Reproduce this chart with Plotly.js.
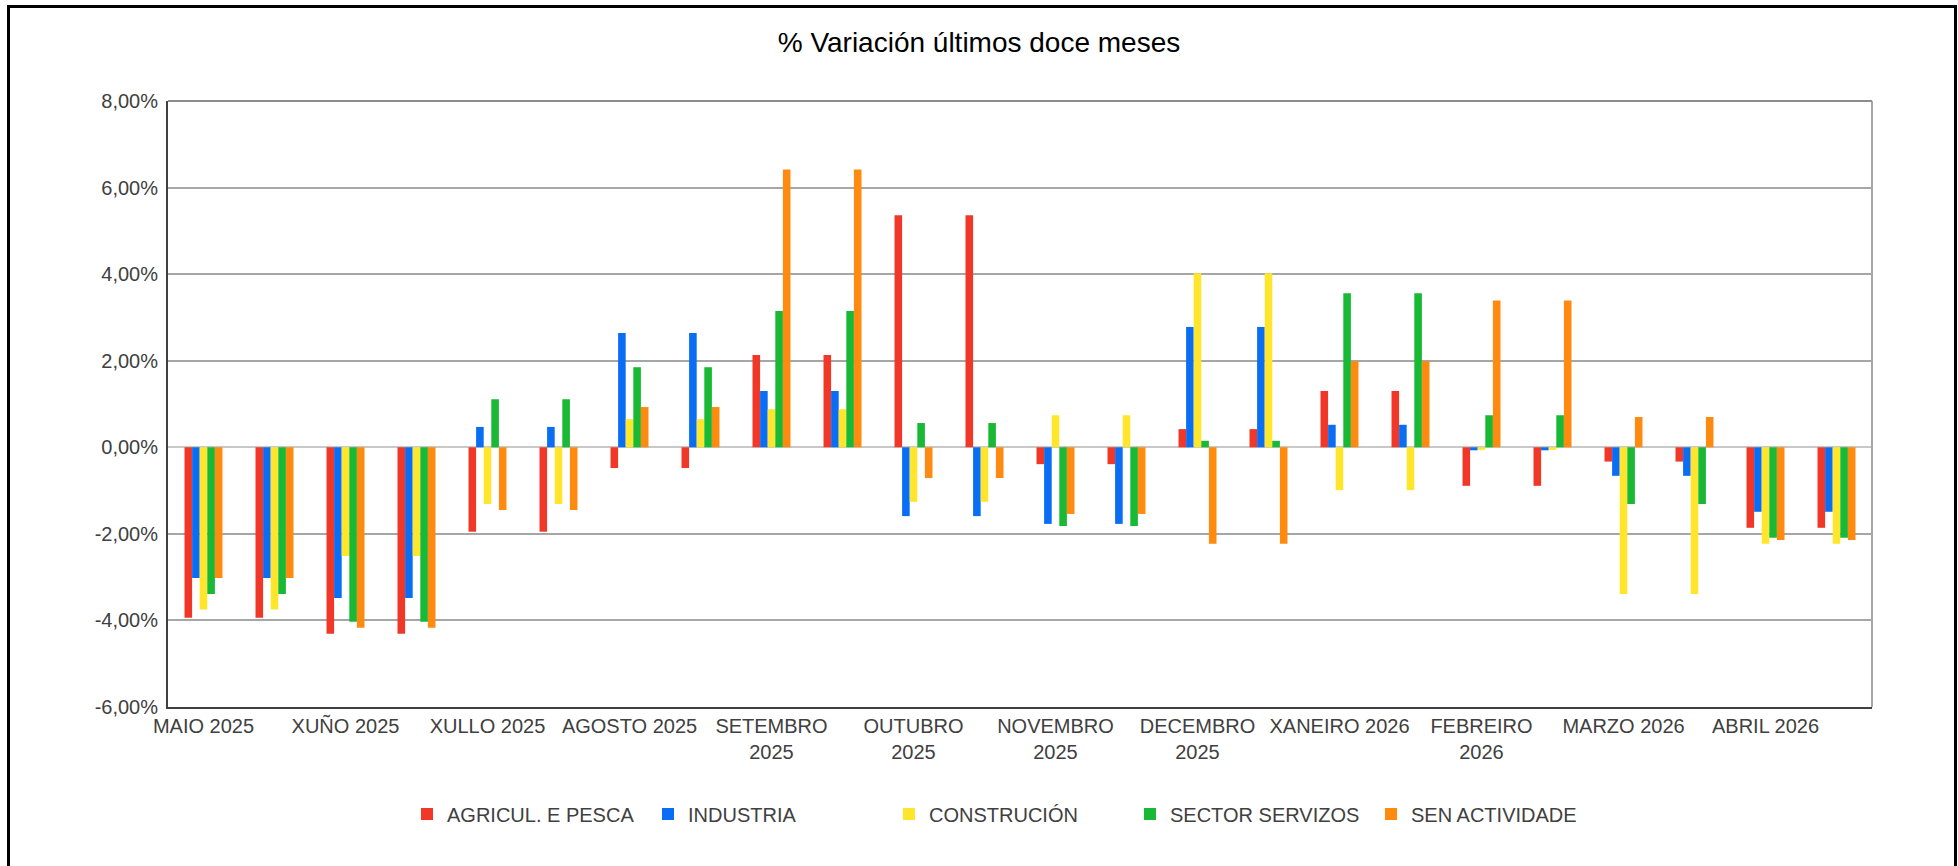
<!DOCTYPE html>
<html>
<head>
<meta charset="utf-8">
<script src="https://cdn.plot.ly/plotly-3.0.1.min.js"></script>
<style>
  html, body { margin: 0; padding: 0; background: #ffffff; overflow: hidden; }
  #chart { position: absolute; left: 0; top: 0; width: 1958px; height: 866px; }
  #frame { position: absolute; left: 7px; top: 5px; width: 1944px; height: 900px;
           border: 3px solid #000; pointer-events: none; box-sizing: content-box; }
</style>
</head>
<body>
<div id="chart"></div>
<div id="frame"></div>
<script>
// Month labels (each month is shown over two bar groups)
const monthLabels = ["MAIO 2025", "XUÑO 2025", "XULLO 2025", "AGOSTO 2025", "SETEMBRO<br>2025",
  "OUTUBRO<br>2025", "NOVEMBRO<br>2025", "DECEMBRO<br>2025", "XANEIRO 2026", "FEBREIRO<br>2026",
  "MARZO 2026", "ABRIL 2026"];

const seriesNames = ["AGRICUL. E PESCA", "INDUSTRIA", "CONSTRUCIÓN", "SECTOR SERVIZOS", "SEN ACTIVIDADE"];
const seriesColors = ["#f03728", "#0a6ef5", "#ffe62d", "#19b936", "#ff8a10"];

// 24 bar groups (two per month), values in %
const agricultura = [-3.94, -3.94, -4.31, -4.31, -1.95, -1.95, -0.48, -0.48, 2.13, 2.13, 5.36, 5.36,
  -0.39, -0.39, 0.42, 0.42, 1.30, 1.30, -0.89, -0.89, -0.33, -0.33, -1.86, -1.86];
const industria = [-3.02, -3.02, -3.48, -3.48, 0.47, 0.47, 2.64, 2.64, 1.30, 1.30, -1.59, -1.59,
  -1.77, -1.77, 2.78, 2.78, 0.52, 0.52, -0.07, -0.07, -0.66, -0.66, -1.49, -1.49];
const construcion = [-3.75, -3.75, -2.51, -2.51, -1.31, -1.31, 0.65, 0.65, 0.88, 0.88, -1.26, -1.26,
  0.74, 0.74, 4.02, 4.02, -0.99, -0.99, -0.06, -0.06, -3.39, -3.39, -2.23, -2.23];
const servizos = [-3.39, -3.39, -4.03, -4.03, 1.11, 1.11, 1.85, 1.85, 3.15, 3.15, 0.56, 0.56,
  -1.82, -1.82, 0.15, 0.15, 3.56, 3.56, 0.74, 0.74, -1.31, -1.31, -2.09, -2.09];
const senActividade = [-3.02, -3.02, -4.17, -4.17, -1.45, -1.45, 0.93, 0.93, 6.42, 6.42, -0.71, -0.71,
  -1.54, -1.54, -2.23, -2.23, 1.99, 1.99, 3.39, 3.39, 0.70, 0.70, -2.14, -2.14];

const yTickVals = [-6, -4, -2, 0, 2, 4, 6, 8];
const yTickText = ["-6,00%", "-4,00%", "-2,00%", "0,00%", "2,00%", "4,00%", "6,00%", "8,00%"];

const seriesValues = [agricultura, industria, construcion, servizos, senActividade];
const nGroups = agricultura.length;
const xIdx = agricultura.map((_, i) => i);

const traces = seriesValues.map((vals, k) => ({
  type: "bar",
  name: seriesNames[k],
  x: xIdx,
  y: vals,
  marker: { color: seriesColors[k], line: { width: 0 } },
  hoverinfo: "name+y"
}));

const labelVals = monthLabels.map((_, i) => 2 * i);
const tickMarkVals = monthLabels.map((_, i) => 2 * i + 1);

const font = "Liberation Sans, Arial, sans-serif";

const layout = {
  width: 1958,
  height: 866,
  paper_bgcolor: "#ffffff",
  plot_bgcolor: "#ffffff",
  margin: { l: 168, r: 86, t: 101, b: 159 },
  barmode: "group",
  bargap: 0.465,
  bargroupgap: 0,
  title: {
    text: "% Variación últimos doce meses",
    font: { family: font, size: 28, color: "#000000" },
    x: 0.5, xanchor: "center", xref: "container",
    y: 1 - 42 / 866, yanchor: "middle", yref: "container"
  },
  font: { family: font, size: 20, color: "#404040" },
  xaxis: {
    range: [-0.5, nGroups - 0.5],
    tickmode: "array",
    tickvals: labelVals,
    ticktext: monthLabels,
    ticks: "",
    showgrid: false,
    zeroline: false,
    showline: true,
    linecolor: "#404040",
    linewidth: 2,
    mirror: false,
    tickfont: { family: font, size: 20, color: "#404040" },
    ticklabelstandoff: 0,
    fixedrange: true
  },
  xaxis2: {
    overlaying: "x",
    anchor: "y",
    side: "bottom",
    range: [-0.5, nGroups - 0.5],
    tickmode: "array",
    tickvals: tickMarkVals,
    ticks: "outside",
    ticklen: 8,
    tickwidth: 2,
    tickcolor: "#303030",
    showticklabels: false,
    showgrid: false,
    zeroline: false,
    showline: false,
    fixedrange: true
  },
  yaxis: {
    range: [-6, 8],
    tickmode: "array",
    tickvals: yTickVals,
    ticktext: yTickText,
    ticks: "",
    showgrid: true,
    gridcolor: "#a6a6a6",
    gridwidth: 2,
    zeroline: true,
    zerolinecolor: "#c8c8c8",
    zerolinewidth: 2,
    showline: true,
    linecolor: "#404040",
    linewidth: 2,
    tickfont: { family: font, size: 20, color: "#404040" },
    ticklabelstandoff: 4,
    fixedrange: true
  },
  shapes: [
    { type: "line", xref: "paper", yref: "paper", x0: 1, x1: 1, y0: 0, y1: 1,
      line: { color: "#a6a6a6", width: 2 } },
    { type: "line", xref: "paper", yref: "paper", x0: 0, x1: 1, y0: 1, y1: 1,
      line: { color: "#8c8c8c", width: 2 } }
  ],
  showlegend: true,
  legend: {
    orientation: "h",
    x: (407 - 168) / (1958 - 168 - 86),
    xanchor: "left",
    y: -(814 - 707) / (866 - 101 - 159),
    yanchor: "middle",
    entrywidth: 196,
    entrywidthmode: "pixels",
    font: { family: font, size: 20, color: "#404040" },
    bgcolor: "rgba(0,0,0,0)",
    borderwidth: 0,
    traceorder: "normal"
  }
};

Plotly.newPlot("chart", traces, layout, { displayModeBar: false, staticPlot: true });
</script>
</body>
</html>
